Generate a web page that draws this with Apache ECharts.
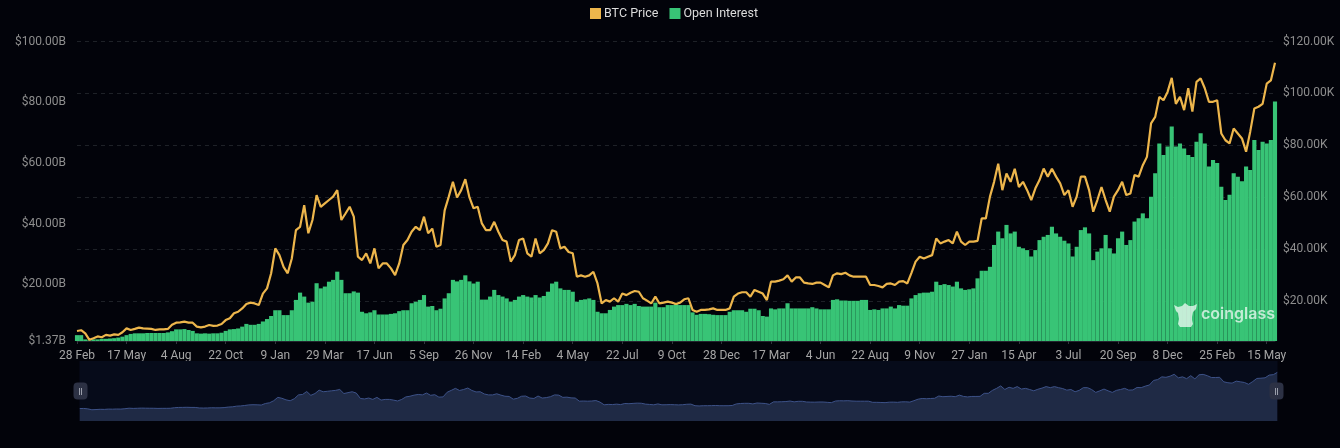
<!DOCTYPE html>
<html>
<head>
<meta charset="utf-8">
<title>BTC Open Interest</title>
<script src="https://cdn.jsdelivr.net/npm/echarts@6/dist/echarts.min.js"></script>
<style>
html, body { margin: 0; padding: 0; background: #02030a; }
#chart { width: 1340px; height: 448px; }
</style>
</head>
<body>
<div id="chart"></div>
<script>
const tickLabels = ["28 Feb", "17 May", "4 Aug", "22 Oct", "9 Jan", "29 Mar", "17 Jun", "5 Sep", "26 Nov", "14 Feb", "4 May", "22 Jul",
    "9 Oct", "28 Dec", "17 Mar", "4 Jun", "22 Aug", "9 Nov", "27 Jan", "15 Apr", "3 Jul", "20 Sep", "8 Dec", "25 Feb", "15 May"];
const leftTicks = [1.37, 20, 40, 60, 80, 100];
const rightTicks = [20, 40, 60, 80, 100, 120];

// BTC price in $K, 12 readings per tick label
const btcPrice = [
    8.6, 8.9, 7.7, 5.2, 5.8, 6.5, 6.2, 7.1, 6.8, 7.3, 7.1, 8.1,
    9.6, 9.0, 9.4, 9.9, 9.6, 9.5, 9.4, 9.0, 9.2, 9.2, 9.4, 11.0,
    11.8, 11.9, 12.2, 11.8, 11.8, 10.3, 10.0, 10.3, 10.9, 10.6, 10.7, 11.3,
    12.8, 13.5, 15.4, 16.0, 17.3, 19.0, 19.5, 19.2, 18.6, 23.0, 25.0, 30.8,
    40.4, 37.8, 33.3, 30.8, 36.5, 47.4, 48.7, 57.0, 46.2, 51.3, 60.9, 56.4,
    57.7, 59.0, 60.3, 62.8, 51.3, 53.8, 56.4, 52.6, 37.2, 35.9, 38.5, 34.6,
    40.4, 32.7, 34.6, 34.6, 32.7, 30.1, 34.6, 41.7, 43.6, 46.8, 48.7, 47.4,
    52.6, 46.2, 48.0, 41.0, 41.7, 55.0, 60.3, 66.0, 60.0, 62.8, 67.0, 60.0,
    55.8, 56.4, 50.0, 47.4, 47.4, 50.6, 46.8, 43.6, 43.0, 35.3, 37.8, 43.6,
    44.2, 38.5, 37.2, 44.2, 38.5, 39.7, 42.3, 47.4, 46.8, 40.4, 41.0, 39.0,
    38.5, 29.5, 30.0, 29.5, 30.0, 31.4, 26.9, 19.2, 20.5, 19.9, 21.2, 19.9,
    23.0, 22.4, 23.3, 24.0, 23.7, 21.2, 20.3, 19.2, 21.8, 19.2, 19.5, 19.9,
    19.5, 19.0, 19.5, 20.8, 21.2, 16.7, 16.0, 16.7, 16.7, 16.9, 17.3, 16.7,
    16.7, 16.7, 17.3, 21.8, 23.0, 23.5, 23.5, 21.8, 24.4, 23.7, 23.0, 20.5,
    27.6, 27.6, 28.0, 28.5, 30.0, 27.6, 29.2, 29.2, 27.2, 26.9, 26.7, 27.2,
    27.2, 26.3, 25.4, 30.0, 30.8, 30.5, 31.0, 30.0, 29.5, 29.5, 29.5, 29.5,
    26.3, 26.3, 25.9, 25.4, 26.7, 26.9, 26.3, 27.6, 27.8, 26.9, 31.0, 35.3,
    37.2, 36.5, 37.2, 37.8, 44.2, 42.3, 43.0, 43.6, 42.3, 46.8, 43.0, 41.7,
    43.0, 43.0, 43.3, 51.9, 51.9, 60.3, 66.0, 73.0, 62.8, 69.2, 66.0, 71.0,
    64.0, 66.0, 62.8, 59.0, 63.5, 66.7, 71.1, 68.0, 71.0, 68.0, 65.4, 60.9,
    62.8, 56.4, 60.3, 68.0, 68.0, 62.8, 54.5, 59.0, 64.0, 59.0, 54.5, 60.3,
    62.8, 66.0, 60.9, 61.5, 68.6, 68.0, 72.4, 75.6, 88.5, 91.0, 98.7, 97.4,
    100.6, 106.0, 96.0, 98.7, 93.6, 102.0, 93.0, 104.5, 105.8, 102.0, 96.8, 96.8,
    97.4, 84.6, 82.0, 80.8, 86.5, 84.6, 82.7, 77.6, 85.3, 94.2, 94.9, 96.0,
    103.8, 105.0, 111.8
];

// Open interest in $B, same readings
const openInterest = [
    3.3, 3.3, 1.9, 1.6, 1.9, 1.9, 2.1, 2.1, 2.2, 2.3, 2.5, 2.8,
    3.3, 3.7, 3.9, 3.9, 3.9, 4.0, 4.0, 4.0, 4.0, 4.0, 4.2, 4.6,
    5.2, 5.2, 5.3, 5.0, 4.7, 3.9, 3.8, 3.9, 3.8, 3.9, 3.9, 4.1,
    4.7, 5.2, 5.3, 5.5, 6.1, 7.0, 6.7, 6.7, 7.0, 7.8, 8.6, 9.6,
    11.5, 11.5, 9.9, 9.9, 11.5, 14.9, 17.3, 16.0, 14.0, 14.3, 20.4, 18.7,
    19.3, 20.9, 21.5, 24.2, 21.5, 17.1, 17.1, 17.7, 17.3, 11.0, 10.5, 10.8,
    11.5, 10.1, 10.1, 10.1, 10.3, 10.5, 11.2, 11.5, 11.5, 13.8, 14.3, 14.9,
    16.5, 12.7, 12.9, 11.5, 12.0, 15.4, 17.1, 21.5, 21.0, 21.5, 23.0, 21.0,
    20.3, 20.9, 15.0, 15.0, 16.0, 18.2, 16.5, 16.0, 15.4, 14.3, 14.9, 16.0,
    16.5, 16.0, 15.7, 16.5, 15.7, 16.2, 17.6, 20.3, 20.9, 18.7, 18.2, 18.2,
    17.6, 14.3, 14.9, 15.1, 15.4, 14.9, 11.0, 10.5, 10.5, 11.6, 12.7, 13.2,
    13.2, 13.6, 13.2, 13.6, 12.9, 12.7, 12.7, 12.7, 14.0, 12.5, 12.5, 13.2,
    13.2, 13.5, 13.2, 13.2, 13.2, 10.8, 10.0, 10.3, 10.3, 10.2, 10.0, 9.9,
    9.9, 9.9, 11.0, 11.5, 11.5, 11.5, 11.0, 12.0, 12.0, 11.5, 9.6, 9.4,
    12.1, 11.8, 12.1, 12.1, 13.8, 12.1, 12.1, 12.1, 12.1, 12.1, 12.5, 12.1,
    11.8, 11.8, 11.8, 14.9, 15.1, 14.7, 14.7, 14.6, 14.6, 14.6, 14.9, 14.9,
    11.6, 11.8, 11.6, 12.1, 12.1, 12.7, 12.1, 13.2, 13.0, 13.0, 15.4, 16.5,
    17.1, 17.3, 17.3, 17.6, 20.9, 19.8, 20.1, 19.8, 19.3, 20.9, 18.7, 18.2,
    18.4, 18.7, 22.0, 24.5, 24.5, 25.8, 33.0, 37.4, 35.2, 39.6, 36.8, 37.4,
    32.4, 31.9, 31.3, 29.2, 31.3, 34.6, 35.7, 36.3, 39.0, 36.8, 35.7, 34.4,
    33.5, 29.2, 32.4, 37.9, 38.8, 36.8, 28.0, 30.8, 31.9, 36.3, 31.9, 30.2,
    35.2, 37.4, 33.0, 34.6, 40.7, 41.8, 43.4, 41.8, 48.9, 56.6, 66.4, 62.6,
    65.4, 72.0, 65.4, 66.4, 64.8, 62.6, 62.0, 67.0, 69.8, 66.4, 58.8, 61.0,
    60.0, 52.2, 47.8, 49.5, 56.6, 55.5, 54.0, 58.8, 57.7, 67.6, 64.3, 67.0,
    66.4, 67.6, 80.2
];

const perTick = 12;
const categories = btcPrice.map((_, i) => (i % perTick === 0 ? tickLabels[i / perTick] : ""));

const fontFamily = "Roboto, sans-serif";
const chart = echarts.init(document.getElementById("chart"), null, { renderer: "canvas" });

const option = {
    animation: false,
    backgroundColor: "#02030a",
    legend: {
        top: 2,
        left: 585,
        icon: "rect",
        itemWidth: 11,
        itemHeight: 11,
        itemGap: 11,
        textStyle: { color: "#dcdcdc", fontSize: 12.5, fontFamily: fontFamily, padding: [0, 0, 0, -2] },
        data: ["BTC Price", "Open Interest"]
    },
    grid: { left: 77, right: 65, top: 41.5, height: 299.5 },
    xAxis: {
        type: "category",
        data: categories,
        boundaryGap: false,
        axisLine: { lineStyle: { color: "#22252e" } },
        axisTick: { interval: perTick - 1, length: 3, lineStyle: { color: "#33363f" } },
        axisLabel: { interval: perTick - 1, color: "#a6a6a6", fontSize: 12, margin: 9, fontFamily: fontFamily }
    },
    yAxis: [
        {
            type: "value",
            min: 1.37,
            max: 100,
            splitLine: { show: false },
            axisLine: { show: false },
            axisTick: { show: false, customValues: leftTicks },
            axisLabel: {
                customValues: leftTicks,
                color: "#8e8e8e",
                fontSize: 12,
                margin: 11,
                fontFamily: fontFamily,
                formatter: v => "$" + v.toFixed(2) + "B"
            }
        },
        {
            type: "value",
            min: 4.75,
            max: 120,
            position: "right",
            splitLine: { show: true, lineStyle: { color: "#1e2127", type: [4, 4], width: 1 } },
            axisLine: { show: false },
            axisTick: { show: false, customValues: rightTicks },
            axisLabel: {
                customValues: rightTicks,
                color: "#8e8e8e",
                fontSize: 12,
                margin: 8,
                fontFamily: fontFamily,
                formatter: v => "$" + v.toFixed(2) + "K"
            }
        }
    ],
    dataZoom: [
        {
            type: "slider",
            xAxisIndex: 0,
            left: 77,
            right: 65,
            top: 361,
            height: 60,
            start: 0,
            end: 100,
            showDetail: false,
            brushSelect: false,
            moveHandleSize: 0,
            backgroundColor: "#060b1a",
            borderColor: "transparent",
            fillerColor: "rgba(0,0,0,0)",
            dataBackground: {
                lineStyle: { color: "#3d5288", width: 1, opacity: 1 },
                areaStyle: { color: "#1f2a45", opacity: 1 }
            },
            selectedDataBackground: {
                lineStyle: { color: "#3d5288", width: 1, opacity: 1 },
                areaStyle: { color: "#1f2a45", opacity: 1 }
            },
            handleIcon: "path://M4 0H10A4 4 0 0 1 14 4V13A4 4 0 0 1 10 17H4A4 4 0 0 1 0 13V4A4 4 0 0 1 4 0Z",
            handleSize: 17,
            handleStyle: { color: "#2c3144", borderColor: "#2c3144", borderWidth: 0 }
        }
    ],
    graphic: [
        // pause marks on the slider handles
        { type: "rect", z: 200, shape: { x: 79, y: 388, width: 1, height: 7 }, style: { fill: "#9a9eaa" } },
        { type: "rect", z: 200, shape: { x: 81, y: 388, width: 1, height: 7 }, style: { fill: "#9a9eaa" } },
        { type: "rect", z: 200, shape: { x: 1275, y: 388, width: 1, height: 7 }, style: { fill: "#9a9eaa" } },
        { type: "rect", z: 200, shape: { x: 1277, y: 388, width: 1, height: 7 }, style: { fill: "#9a9eaa" } },
        // watermark
        {
            type: "polygon",
            z: 100,
            shape: {
                points: [[1174, 305], [1178, 307], [1182, 306], [1185, 303], [1189, 306], [1193, 306], [1197, 304],
                    [1196, 309], [1193, 312], [1192, 317], [1192, 320], [1193, 324], [1191, 327], [1186, 327],
                    [1180, 327], [1178, 324], [1179, 319], [1178, 313], [1176, 311]]
            },
            style: { fill: "rgba(255,255,255,0.7)" }
        },
        {
            type: "text",
            z: 100,
            x: 1201,
            y: 306,
            style: { text: "coinglass", fill: "rgba(255,255,255,0.7)", font: "600 16px Inter, Roboto, sans-serif" }
        }
    ],
    series: [
        {
            name: "BTC Price",
            type: "line",
            yAxisIndex: 1,
            data: btcPrice,
            z: 5,
            symbol: "none",
            itemStyle: { color: "#edb64c" },
            lineStyle: { color: "#edb64c", width: 2.2 }
        },
        {
            name: "Open Interest",
            type: "bar",
            yAxisIndex: 0,
            data: openInterest,
            z: 2,
            barWidth: "100%",
            itemStyle: { color: "#38c476" }
        }
    ]
};

chart.setOption(option);
window.addEventListener("resize", chart.resize);
</script>
</body>
</html>
